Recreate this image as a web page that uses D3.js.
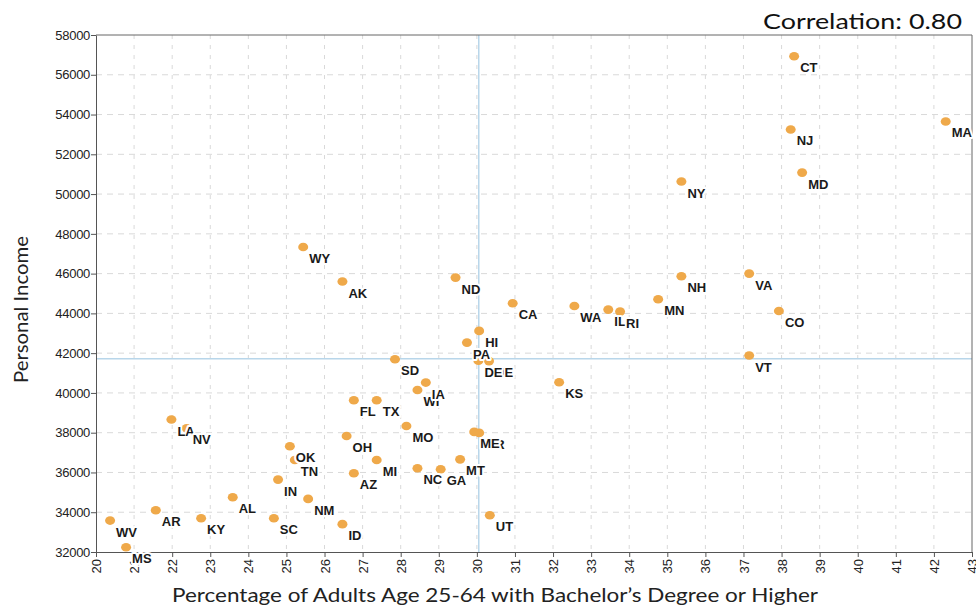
<!DOCTYPE html>
<html>
<head>
<meta charset="utf-8">
<script src="https://cdn.jsdelivr.net/npm/d3@7"></script>
<style>
  body { margin: 0; background: #fff; }
  svg { display: block; }
</style>
</head>
<body>
<div id="chart"></div>
<script>
let states = ["CT","NJ","MA","MD","NY","WY","AK","ND","NH","VA","MN","WA","IL","RI","CA","CO",
              "HI","PA","NE","DE","VT","SD","KS","WI","IA","FL","TX","LA","NV","MO","OR","ME",
              "OH","OK","TN","MI","AZ","NC","GA","MT","IN","AL","NM","AR","KY","SC","WV","MS","ID","UT"]
let pctBachelor = [38.33,38.24,42.31,38.54,35.37,25.44,26.47,29.44,35.37,37.15,34.76,32.56,33.45,33.76,30.94,37.93,
                   30.06,29.74,30.32,30.04,37.15,27.85,32.16,28.44,28.66,26.77,27.37,21.98,22.38,28.15,30.06,29.93,
                   26.58,25.09,25.22,27.37,26.77,28.44,29.05,29.56,24.78,23.59,25.57,21.57,22.76,24.67,20.37,20.79,26.47,30.34]
let income = [56930,53250,53650,51080,50630,47340,45600,45800,45870,46000,44710,44370,44190,44090,44510,44120,
              43120,42530,41600,41620,41880,41690,40540,40150,40520,39630,39630,38660,38220,38340,37990,38040,
              37830,37320,36630,36630,35960,36210,36160,36660,35640,34750,34670,34100,33700,33700,33580,32240,33400,33850]
let xTicks = d3.range(20, 44, 1)
let yTicks = d3.range(32000, 58001, 2000)
let meanPct = 30.05, meanIncome = 41720
let title = "Correlation: 0.80"
let xTitle = "Percentage of Adults Age 25-64 with Bachelor\u2019s Degree or Higher"
let yTitle = "Personal Income"

let width = 976, height = 609,
    margin = {top: 35, right: 4, bottom: 57, left: 96},
    svg = d3.select("#chart").append("svg")
        .attr("width", width)
        .attr("height", height)

let x = d3.scaleLinear().domain([20, 43]).range([margin.left, width - margin.right])
let y = d3.scaleLinear().domain([32000, 58000]).range([height - margin.bottom, margin.top])

let data = states.map((s, i) => ({state: s, pct: pctBachelor[i], inc: income[i]}))

// dashed grid
svg.append("g").selectAll("line").data(xTicks.slice(1, -1)).join("line")
    .attr("x1", d => x(d)).attr("x2", d => x(d))
    .attr("y1", y(58000)).attr("y2", y(32000))
    .attr("stroke", "#d9d9d9").attr("stroke-dasharray", "4,6")
svg.append("g").selectAll("line").data(yTicks.slice(1, -1)).join("line")
    .attr("x1", x(20)).attr("x2", x(43))
    .attr("y1", d => y(d)).attr("y2", d => y(d))
    .attr("stroke", "#d9d9d9").attr("stroke-dasharray", "6,5")

// mean lines
svg.append("line")
    .attr("x1", x(meanPct)).attr("x2", x(meanPct))
    .attr("y1", y(58000)).attr("y2", y(32000))
    .attr("stroke", "#b8d6ea").attr("stroke-width", 1.5)
svg.append("line")
    .attr("x1", x(20)).attr("x2", x(43))
    .attr("y1", y(meanIncome)).attr("y2", y(meanIncome))
    .attr("stroke", "#b8d6ea").attr("stroke-width", 1.5)

// frame top / right
svg.append("path")
    .attr("d", `M${x(20)},${y(58000)}H${x(43)}V${y(32000)}`)
    .attr("fill", "none").attr("stroke", "#666")

let yAxis = svg.append("g")
    .attr("transform", `translate(${margin.left},0)`)
    .call(d3.axisLeft(y).tickValues(yTicks).tickFormat(d3.format("d")).tickSize(5).tickSizeOuter(0))
yAxis.select(".domain").attr("stroke", "#555")
yAxis.selectAll(".tick line").attr("stroke", "#555")
yAxis.selectAll("text")
    .attr("font-family", "Liberation Sans, Arial, sans-serif")
    .attr("font-size", 13).attr("fill", "#222").attr("x", -6)
    .attr("letter-spacing", "-0.3")

let xAxis = svg.append("g")
    .attr("transform", `translate(0,${height - margin.bottom})`)
    .call(d3.axisBottom(x).tickValues(xTicks).tickSize(5).tickSizeOuter(0))
xAxis.select(".domain").attr("stroke", "#555")
xAxis.selectAll(".tick line").attr("stroke", "#555")
xAxis.selectAll("text")
    .attr("font-family", "Liberation Sans, Arial, sans-serif")
    .attr("font-size", 13).attr("fill", "#222")
    .attr("transform", "rotate(-90)")
    .attr("text-anchor", "end")
    .attr("x", -7).attr("y", 0).attr("dy", "0.35em")

// points
svg.append("g").selectAll("ellipse").data(data).join("ellipse")
    .attr("cx", d => x(d.pct)).attr("cy", d => y(d.inc))
    .attr("rx", 5).attr("ry", 4.3)
    .attr("fill", "#efa94a")

// state labels with white halo, later ones cover earlier ones
svg.append("g").selectAll("text").data(data).join("text")
    .attr("x", d => x(d.pct) + 6).attr("y", d => y(d.inc) + 16)
    .attr("font-family", "Liberation Sans, Arial, sans-serif")
    .attr("font-weight", "bold").attr("font-size", 13)
    .attr("fill", "#1a1a1a")
    .attr("stroke", "#fff").attr("stroke-width", 4)
    .attr("stroke-linejoin", "round")
    .attr("paint-order", "stroke")
    .text(d => d.state)

// titles
svg.append("text")
    .attr("x", 962).attr("y", 29)
    .attr("text-anchor", "end")
    .attr("font-family", "Lato, sans-serif").attr("font-size", 22)
    .attr("textLength", 199).attr("lengthAdjust", "spacingAndGlyphs")
    .attr("fill", "#111")
    .text(title)

svg.append("text")
    .attr("x", 172).attr("y", 602)
    .attr("font-family", "Lato, sans-serif").attr("font-size", 19)
    .attr("textLength", 646).attr("lengthAdjust", "spacingAndGlyphs")
    .attr("fill", "#222")
    .text(xTitle)

svg.append("text")
    .attr("transform", "translate(28,383) rotate(-90)")
    .attr("font-family", "Lato, sans-serif").attr("font-size", 19)
    .attr("textLength", 147).attr("lengthAdjust", "spacingAndGlyphs")
    .attr("fill", "#222")
    .text(yTitle)
</script>
</body>
</html>
